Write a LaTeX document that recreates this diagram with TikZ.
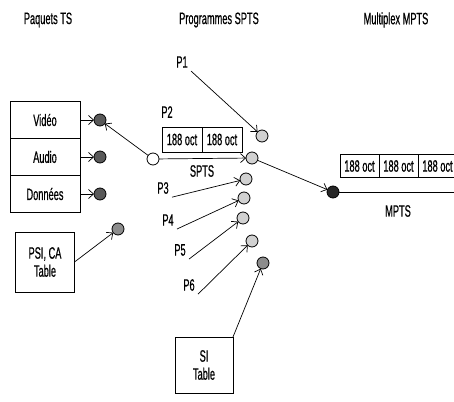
\documentclass[tikz,border=0pt]{standalone}
\usepackage{fontspec}
\setmainfont{Liberation Sans}[FakeStretch=0.56, FakeBold=0.6]
\usepackage{tikz}
\usetikzlibrary{arrows, arrows.meta, positioning, calc}

\definecolor{dotdark}{gray}{0.35}
\definecolor{dotmid}{gray}{0.55}
\definecolor{dotlight}{gray}{0.82}
\definecolor{dotblack}{gray}{0.15}

\begin{document}
\begin{tikzpicture}[x=1pt, y=-1pt, every node/.style={outer sep=0pt, font=\fontsize{16.5}{18}\selectfont}, line width=0.8pt]

\tikzstyle{pkt}=[draw, minimum width=70pt, minimum height=37pt, inner sep=0pt]
\tikzstyle{table}=[draw, align=center, inner sep=0pt]
\tikzstyle{oct}=[draw, minimum width=40pt, minimum height=25pt, inner sep=0pt]
\tikzstyle{dot}=[circle, draw, minimum size=12pt, inner sep=0pt]
\tikzstyle{fl}=[-{Straight Barb[length=5pt, width=9pt]}, line width=0.7pt]

\useasboundingbox (0,0) rectangle (454,401);

% titres
\node (tts) at (48,20) {Paquets TS};
\node (tspts) at (219,20) {Programmes SPTS};
\node (tmpts) at (396,20) {Multiplex MPTS};

% paquets TS
\node (video) [pkt] at (45,120) {Vidéo};
\node (audio) [pkt, below=0pt of video] {Audio};
\node (donnees) [pkt, below=0pt of audio] {Données};
\node (cv) [dot, fill=dotdark, right=14pt of video] {};
\node (ca) [dot, fill=dotdark, right=14pt of audio] {};
\node (cd) [dot, fill=dotdark, right=14pt of donnees] {};
\draw [fl] (video) -- (cv);
\draw [fl] (audio) -- (ca);
\draw [fl] (donnees) -- (cd);

\node (psi) [table, minimum width=59pt, minimum height=60pt] at (45,262) {PSI, CA\\Table};
\node (cpsi) [dot, fill=dotmid] at (118,229) {};
\draw [fl] (psi.east) -- (cpsi);

% programme SPTS
\node (cw) [dot, fill=white] at (153,159) {};
\node (o1) [oct] at (182,139.5) {188 oct};
\node (o2) [oct, right=0pt of o1] {188 oct};
\node (p2) at (167,112) {P2};
\node (spts) at (202,171) {SPTS};
\draw [fl] (cw) -- (cv);

\node (c1) [dot, fill=dotlight] at (262,136) {};
\node (cs) [dot, fill=dotlight] at (252,158) {};
\node (c3) [dot, fill=dotlight] at (246,179) {};
\node (c4) [dot, fill=dotlight] at (244,198) {};
\node (c5) [dot, fill=dotlight] at (243,218) {};
\node (c6) [dot, fill=dotlight] at (252,241) {};
\node (csi) [dot, fill=dotmid] at (263,263) {};
\draw [fl] (cw) -- (cs);

\node (p1) at (182,62) {P1};
\node (p3) at (163,188) {P3};
\node (p4) at (168,220) {P4};
\node (p5) at (180,250) {P5};
\node (p6) at (189,285) {P6};
\draw [fl] (p1.south east) -- (c1);
\draw [fl] (p3.south east) -- (c3);
\draw [fl] (p4.south east) -- (c4);
\draw [fl] (p5.south east) -- (c5);
\draw [fl] (p6.south east) -- (c6);

\node (si) [table, minimum width=58pt, minimum height=56pt] at (204,365) {SI\\Table};
\draw [fl] (si.north east) -- (csi);

% multiplex MPTS
\node (cm) [dot, fill=dotblack] at (333,192) {};
\coordinate (fin) at (454,192);
\draw [fl] (cs) -- (cm);
\draw (cm) -- (fin);
\node (m1) [oct, minimum width=39pt, minimum height=23pt] at (359.5,166) {188 oct};
\node (m2) [oct, minimum width=39pt, minimum height=23pt, right=0pt of m1] {188 oct};
\node (m3) [oct, minimum width=39pt, minimum height=23pt, right=0pt of m2] {188 oct};
\node (mpts) at (398,211) {MPTS};

\end{tikzpicture}
\end{document}
